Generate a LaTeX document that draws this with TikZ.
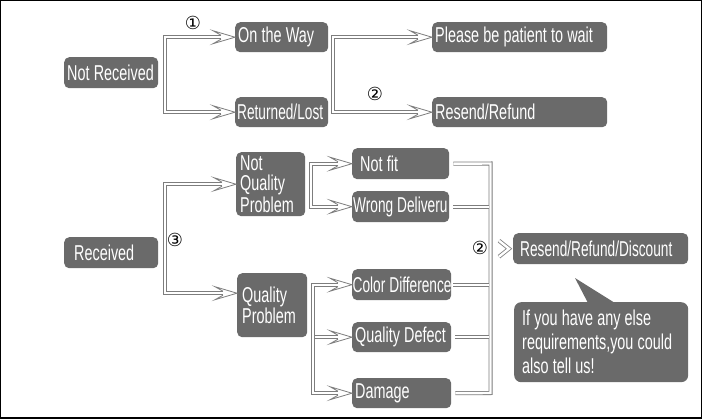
\documentclass[tikz,border=0pt]{standalone}
\usepackage{graphicx}
\usepackage{fontspec}
\setmainfont[FakeStretch=0.67]{Liberation Sans}
\newfontfamily\symfont{DejaVu Sans}
\usetikzlibrary{calc}
\definecolor{boxgray}{RGB}{106,106,106}
\definecolor{lg}{RGB}{125,125,125}
\newcommand{\wsp}{\hspace{4.2pt}}
\newcommand{\tight}[1]{\scalebox{0.95}[1]{#1}}
\tikzset{
  box/.style={fill=boxgray, rounded corners=5pt, text=white, anchor=north west,
    align=left, inner ysep=0pt, font=\fontsize{21.5}{20}\selectfont},
  dbl/.style={draw=lg, double=white, double distance=2.4pt, line width=0.8pt},
  num/.style={font=\symfont\fontsize{18}{18}\selectfont, inner sep=0pt},
  ahead/.pic={
    \fill[white] (-14,-2) -- (-22,-6.5) -- (0,0) -- (-22,6.5) -- (-14,2) -- cycle;
    \draw[lg, line width=0.8pt, line join=miter] (-14,-2) -- (-22,-6.5) -- (0,0) -- (-22,6.5) -- (-14,2);
  }
}
\begin{document}
\begin{tikzpicture}[x=1pt, y=-1pt]
\useasboundingbox (0,0) rectangle (702,418);
\fill[white] (0,0) rectangle (702,418);

% boxes
\node[box, minimum height=31pt, text width=88pt, inner xsep=3pt] (nr) at (64,57) {\mbox{Not\wsp Received}};
\node[box, minimum height=30pt, text width=87pt, inner xsep=3pt] (ow) at (235,22) {\mbox{On\wsp the\wsp Way}};
\node[box, minimum height=30pt, text width=89pt, inner xsep=2pt] (rl) at (235,97) {\tight{Returned/Lost}};
\node[box, minimum height=30pt, text width=169pt, inner xsep=3pt] (pw) at (432,22) {\mbox{Please\wsp be\wsp patient\wsp to\wsp wait}};
\node[box, minimum height=30pt, text width=169pt, inner xsep=3pt] (rr) at (432,97) {\mbox{Resend/Refund}};

\node[box, minimum height=31pt, text width=74pt, inner xsep=10pt] (rc) at (64,237) {\mbox{Received}};
\node[box, minimum height=64pt, text width=61pt, inner xsep=4pt] (nq) at (236,152) {Not\\Quality\\Problem};
\node[box, minimum height=64pt, text width=60pt, inner xsep=5pt] (qp) at (237,273) {Quality\\Problem};

\node[box, minimum height=31pt, text width=81pt, inner xsep=8pt] (nf) at (352,148) {\mbox{Not\wsp fit}};
\node[box, minimum height=31pt, text width=95pt, inner xsep=1pt] (wd) at (352,191) {\tight{Wrong\wsp Deliveru}};
\node[box, minimum height=31pt, text width=98pt, inner xsep=0.5pt] (cd) at (352,269) {\tight{Color\wsp Difference}};
\node[box, minimum height=30pt, text width=93pt, inner xsep=3pt] (qd) at (352,322) {\mbox{Quality\wsp Defect}};
\node[box, minimum height=30pt, text width=93pt, inner xsep=3pt] (dm) at (352,378) {\mbox{Damage}};

\node[box, minimum height=31pt, text width=161pt, inner xsep=7pt] (rd) at (513,233) {\tight{Resend/Refund/Discount}};
\node[box, rounded corners=7pt, minimum height=80pt, text width=158pt, inner xsep=8pt,
      font=\fontsize{21.5}{24}\selectfont] (bb) at (514,302)
      {\mbox{If\wsp you\wsp have\wsp any\wsp else}\\\mbox{requirements,you\wsp could}\\\mbox{also\wsp tell\wsp us!}};
\fill[boxgray] ($(bb.north west)+(61,-24)$) -- ($(bb.north west)+(74,1)$) -- ($(bb.north west)+(101,1)$) -- cycle;

% helper coordinates
\coordinate (b1) at ($(nr.east)+(6.5,0)$);
\coordinate (b2) at ($(ow.east)+(4.5,0)$);
\coordinate (b3) at ($(rc.east)+(6.5,0)$);
\coordinate (qpin) at ($(qp.west)+(0,-12)$);
\coordinate (b4) at ($(nq.east)+(5.5,0)$);
\coordinate (b5) at ($(qp.east)+(5.5,0)$);
\coordinate (rtop) at (490.5,163.5);
\coordinate (rbt) at (490.5,393);

% connectors
\draw[dbl] ([xshift=-14pt]ow.west) -| (b1) |- ([xshift=-14pt]rl.west);
\pic at (ow.west) {ahead};
\pic at (rl.west) {ahead};

\draw[dbl] ([xshift=-14pt]pw.west) -| (b2) |- ([xshift=-14pt]rr.west);
\pic at (pw.west) {ahead};
\pic at (rr.west) {ahead};

\draw[dbl] ([xshift=-14pt]nq.west) -| (b3) |- ($(qpin)+(-14,0)$);
\pic at (nq.west) {ahead};
\pic at (qpin) {ahead};

\draw[dbl] ([xshift=-14pt]nf.west) -| (b4) |- ([xshift=-14pt]wd.west);
\pic at (nf.west) {ahead};
\pic at (wd.west) {ahead};

\draw[dbl] ([xshift=-14pt]cd.west) -| (b5) |- ([xshift=-14pt]dm.west);
\draw[dbl] ($(b5 |- qd.west)+(1.95,0)$) -- ([xshift=-14pt]qd.west);
\pic at (cd.west) {ahead};
\pic at (qd.west) {ahead};
\pic at (dm.west) {ahead};

\draw[dbl] ([xshift=4pt]nf.east) -- (rtop) -- (rbt) -- ([xshift=4pt]dm.east);
\draw[dbl] ([xshift=4pt]wd.east) -- ($(rbt |- wd.east)+(-2,0)$);
\draw[dbl] ([xshift=2pt]cd.east) -- ($(rbt |- cd.east)+(-2,0)$);
\draw[dbl] ([xshift=4pt]qd.east) -- ($(rbt |- qd.east)+(-2,0)$);

\draw[dbl, line join=miter] ($(rd.west)+(-14,-8)$) -- ($(rd.west)+(-4,0)$) -- ($(rd.west)+(-14,8)$);

% numbers
\node[num] (n1) at (193,23) {①};
\node[num] (n2) at (375,94) {②};
\node[num] (n3) at (175,240) {③};
\node[num] (n4) at (480,248) {②};

% frame
\draw[line width=2.5pt] (0,0) rectangle (702,418);
\end{tikzpicture}
\end{document}
